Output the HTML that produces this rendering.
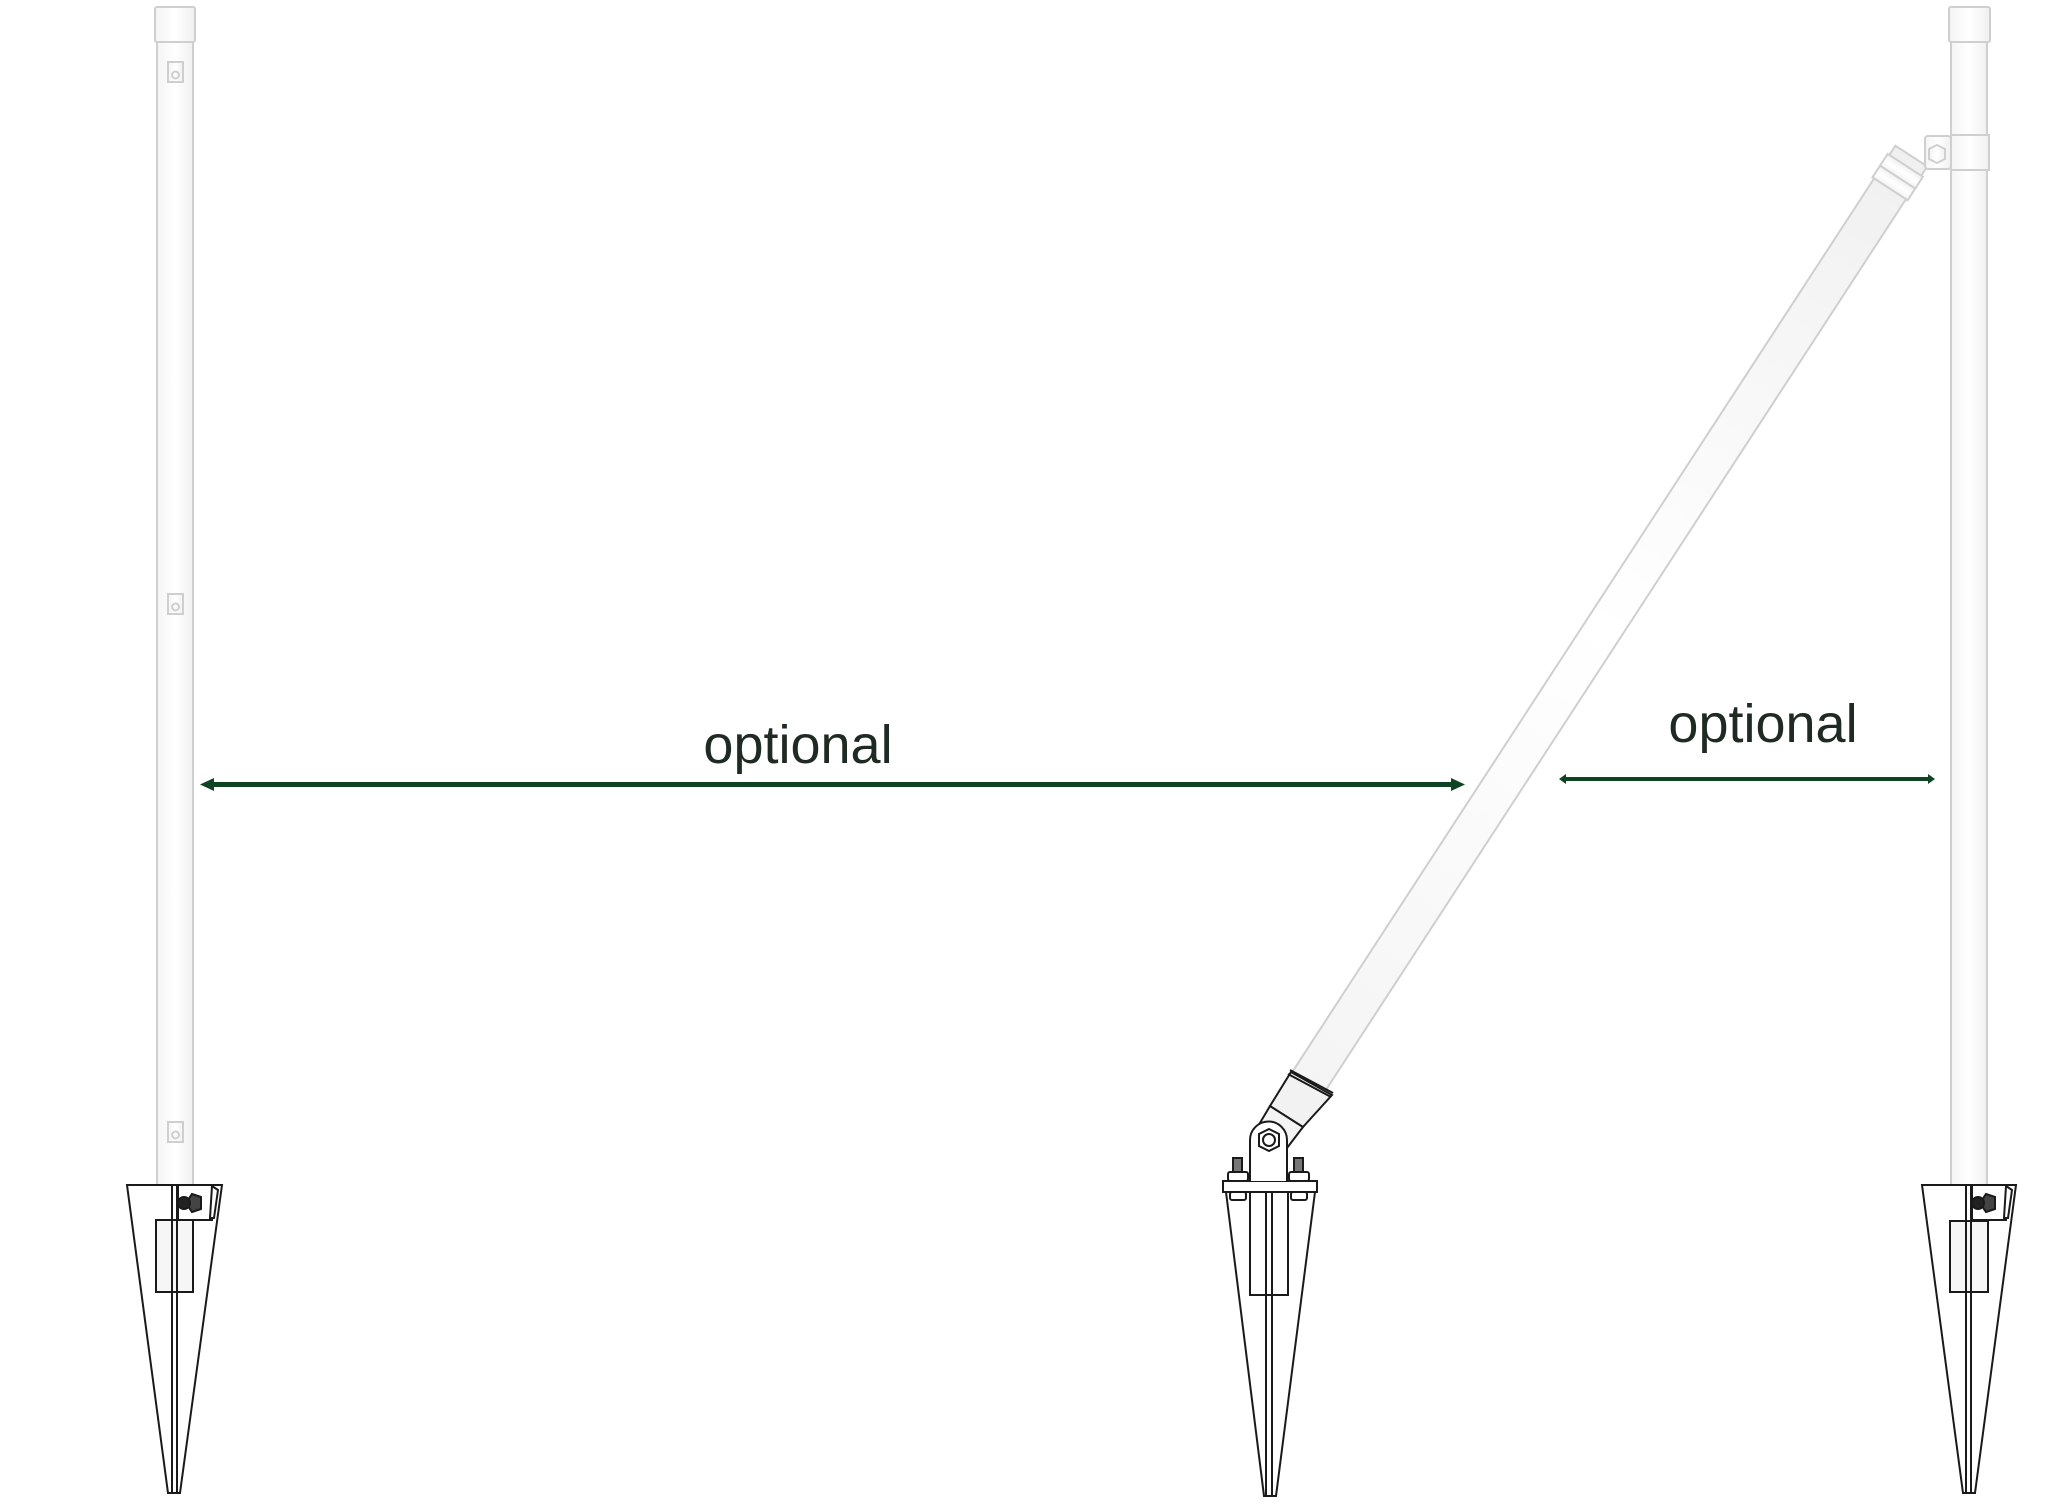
<!DOCTYPE html>
<html><head><meta charset="utf-8"><style>
html,body{margin:0;padding:0;background:#fff;}
svg{display:block;}
text{font-family:"Liberation Sans",sans-serif;fill:#1f2a22;}
</style></head><body>
<svg width="2048" height="1505" viewBox="0 0 2048 1505" xmlns="http://www.w3.org/2000/svg">
<defs>
<linearGradient id="pg" x1="0" x2="1" y1="0" y2="0">
<stop offset="0" stop-color="#f4f4f4"/><stop offset="0.5" stop-color="#ffffff"/><stop offset="1" stop-color="#f0f0f0"/>
</linearGradient>
</defs>
<g fill="url(#pg)" stroke="#cfcfcf" stroke-width="2">
<rect x="157" y="42" width="36" height="1143"/>
<rect x="155" y="7" width="40" height="35" rx="2"/>
<rect x="168" y="62" width="15" height="20"/><circle cx="175.5" cy="75" r="3.5"/>
<rect x="168" y="594" width="15" height="20"/><circle cx="175.5" cy="607" r="3.5"/>
<rect x="168" y="1122" width="15" height="20"/><circle cx="175.5" cy="1135" r="3.5"/>
<rect x="1951" y="42" width="36" height="1143"/>
<rect x="1949" y="7" width="41" height="35" rx="2"/>
<g transform="translate(1298,1098) rotate(-56.93)">
<rect x="0" y="-19" width="1124" height="38"/>
<rect x="1085" y="-21" width="14" height="42"/>
<rect x="1099" y="-21" width="14" height="42"/>
</g>
<rect x="1951" y="135" width="38" height="35"/>
<rect x="1925" y="136" width="26" height="33" rx="3"/>
<polygon points="1937,145 1945,149 1945,159 1937,163 1929,159 1929,149"/>
</g>
<g stroke="#1a1a1a" stroke-width="2" fill="#fff">
<polygon points="127,1185 222,1185 180,1493 168,1493"/>
<rect x="156" y="1220" width="37" height="72" fill="#f6f6f6"/>
<line x1="172" y1="1185" x2="172" y2="1493"/><line x1="177" y1="1185" x2="177" y2="1493"/>
<rect x="178" y="1185" width="34" height="35"/>
<polygon points="212,1186 218,1190 214,1218 210,1218"/>
<polygon points="192,1194 201,1197 201,1209 192,1212 186,1203" fill="#444"/>
<circle cx="184" cy="1203" r="6" fill="#222"/>
<polygon points="1922,1185 2016,1185 1975,1493 1963,1493"/>
<rect x="1950" y="1221" width="38" height="71" fill="#f6f6f6"/>
<line x1="1966" y1="1185" x2="1966" y2="1493"/><line x1="1971" y1="1185" x2="1971" y2="1493"/>
<rect x="1972" y="1185" width="34" height="35"/>
<polygon points="2006,1186 2012,1190 2008,1218 2004,1218"/>
<polygon points="1986,1194 1995,1197 1995,1209 1986,1212 1980,1203" fill="#444"/>
<circle cx="1978" cy="1203" r="6" fill="#222"/>
<polygon points="1226,1192 1315,1192 1276,1496 1264,1496"/>
<rect x="1250" y="1192" width="38" height="103"/>
<line x1="1266" y1="1192" x2="1266" y2="1496"/><line x1="1272" y1="1192" x2="1272" y2="1496"/>
<rect x="1223" y="1181" width="94" height="11"/>
<polygon points="1251,1138 1270,1106 1303,1127 1287,1148" fill="#f4f4f4"/>
<polygon points="1270,1106 1291,1072 1332,1095 1303,1127" fill="#f2f2f2"/>
<line x1="1290" y1="1070" x2="1333" y2="1093"/><line x1="1288" y1="1074" x2="1331" y2="1097"/>
<path d="M1250,1181 L1250,1140 A18.5,18.5 0 0 1 1287,1140 L1287,1181"/>
<polygon points="1269,1129 1279,1134 1279,1146 1269,1151 1259,1146 1259,1134"/>
<circle cx="1269" cy="1140" r="6"/>
<rect x="1233" y="1158" width="9" height="14" fill="#777"/>
<rect x="1228" y="1172" width="20" height="9" rx="2"/>
<rect x="1230" y="1192" width="16" height="8" rx="2"/>
<rect x="1294" y="1158" width="9" height="14" fill="#777"/>
<rect x="1289" y="1172" width="20" height="9" rx="2"/>
<rect x="1291" y="1192" width="16" height="8" rx="2"/>
</g>
<g fill="#0e4423" stroke="none">
<rect x="210" y="782" width="1245" height="5"/>
<polygon points="200,784.5 214,778 214,791"/>
<polygon points="1465,784.5 1451,778 1451,791"/>
<rect x="1564" y="777" width="366" height="4"/>
<polygon points="1559,779 1566,774 1566,784"/>
<polygon points="1935,779 1928,774 1928,784"/>
</g>
<text x="798" y="763" font-size="54" text-anchor="middle">optional</text>
<text x="1763" y="742" font-size="54" text-anchor="middle">optional</text>
</svg>
</body></html>
